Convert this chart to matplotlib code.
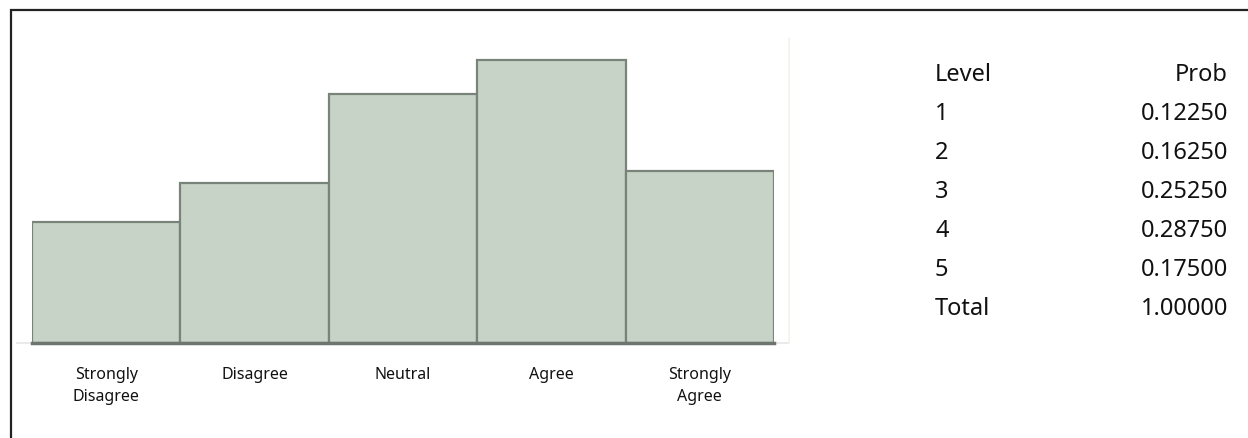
import numpy as np
import matplotlib
matplotlib.use("Agg")
from matplotlib import pyplot as plt
from matplotlib.patches import Rectangle

categories = ["Strongly\nDisagree", "Disagree", "Neutral", "Agree", "Strongly\nAgree"]
levels = ["1", "2", "3", "4", "5"]
probs = [0.12250, 0.16250, 0.25250, 0.28750, 0.17500]
total = 1.00000

plt.rcParams['font.family'] = ['Noto Sans', 'DejaVu Sans']

W, H = 1248, 438
fig = plt.figure(figsize=(W / 100, H / 100), dpi=100)

# outer frame (runs off the right and bottom edge)
fig.patches.append(Rectangle((11 / W, -0.1), 1.2, (438 - 10) / H + 0.1,
                             transform=fig.transFigure, fill=False,
                             edgecolor="#222222", linewidth=1.6))

ax = fig.add_axes([32 / W, (H - 343) / H, 742 / W, 313 / H])
x = np.arange(len(probs))
ax.bar(x, probs, width=1.0, color="#c8d3c8", edgecolor="#78837a", linewidth=1.6)
ax.set_xlim(-0.5, 4.5)
ax.set_ylim(0, 313 / 985)

# faint plot-area edges
ax.plot([-0.6, 4.6], [0, 0], color="#e6e6e6", linewidth=1.2, clip_on=False, zorder=0)
ax.plot([4.6, 4.6], [0, 0.31], color="#f4f4ee", linewidth=1.2, clip_on=False, zorder=0)
ax.plot([-0.5, 4.5], [0, 0], color="#6e756f", linewidth=2.5, clip_on=False, zorder=3)

for s in ax.spines.values():
    s.set_visible(False)
ax.set_yticks([])
ax.set_xticks(x)
ax.set_xticklabels(categories, fontsize=11.5, color="#111111", va="top", linespacing=1.5)
ax.tick_params(axis="x", length=0, pad=17)

# probability table
rows = [("Level", "Prob")] + [(l, f"{p:.5f}") for l, p in zip(levels, probs)] + [("Total", f"{total:.5f}")]
for i, (a, b) in enumerate(rows):
    yy = (H - (75 + 39 * i)) / H
    fig.text(935 / W, yy, a, ha="left", va="center", fontsize=17, color="#111111")
    fig.text(1228 / W, yy, b, ha="right", va="center", fontsize=17, color="#111111")

fig.savefig("out.png", dpi=100)
